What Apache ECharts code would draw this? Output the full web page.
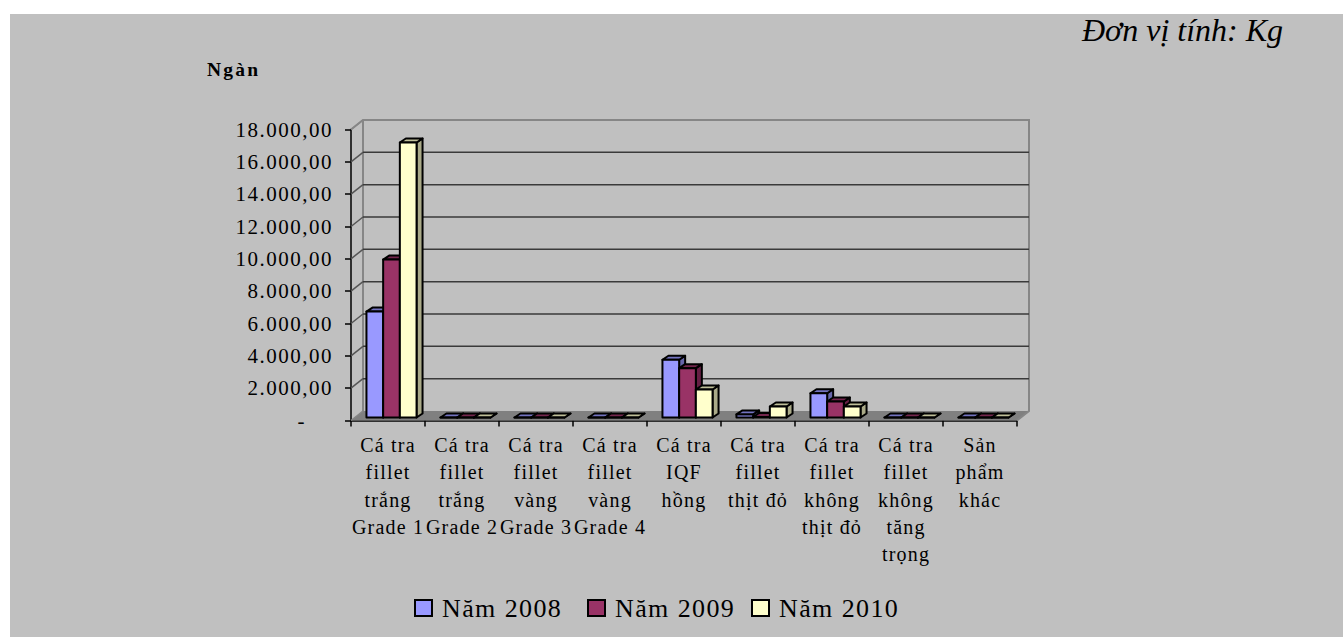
<!DOCTYPE html>
<html>
<head>
<meta charset="utf-8">
<style>
  html, body { margin: 0; padding: 0; background: #fff; }
  #chart { width: 1343px; height: 637px; }
  /* Wider tracking for the serif labels, keyed on their font size */
  svg text[style*="20px"] { letter-spacing: 1.2px; }
  svg text[style*="21px"] { letter-spacing: 1.5px; }
  svg text[style*="19.5px"] { letter-spacing: 2.2px; }
  svg text[style*="26px"] { letter-spacing: 1.4px; }
</style>
<script src="https://cdn.jsdelivr.net/npm/echarts@6/dist/echarts.min.js"></script>
</head>
<body>
<div id="chart"></div>
<script>
const categories = [
  'Cá tra\nfillet\ntrắng\nGrade 1',
  'Cá tra\nfillet\ntrắng\nGrade 2',
  'Cá tra\nfillet\nvàng\nGrade 3',
  'Cá tra\nfillet\nvàng\nGrade 4',
  'Cá tra\nIQF\nhồng',
  'Cá tra\nfillet\nthịt đỏ',
  'Cá tra\nfillet\nkhông\nthịt đỏ',
  'Cá tra\nfillet\nkhông\ntăng\ntrọng',
  'Sản\nphẩm\nkhác'
];
const nam2008 = [6550, 0, 0, 0, 3570, 190, 1500, 0, 0];
const nam2009 = [9770, 0, 0, 0, 3050, 30, 990, 0, 0];
const nam2010 = [17010, 0, 0, 0, 1730, 680, 680, 0, 0];
const gridValues = [0, 2000, 4000, 6000, 8000, 10000, 12000, 14000, 16000, 18000];

const SERIF = '"Liberation Serif", "Times New Roman", serif';
// Oblique offset of the back wall and of each column's depth
const WALL_DX = 12, WALL_DY = -9.5;
const BAR_DX = 6, BAR_DY = -4;
const BAR_SHIFT_X = 3.5, BAR_SHIFT_Y = -3, BAR_WIDTH = 16.7;

function wallItem(params, api) {
  const cs = params.coordSys;
  const left = cs.x, right = cs.x + cs.width, top = cs.y, bottom = cs.y + cs.height;
  const children = [];
  if (params.dataIndex === 0) {
    children.push({
      type: 'polygon',
      shape: { points: [[left, bottom], [left + WALL_DX, bottom + WALL_DY], [right + WALL_DX, bottom + WALL_DY], [right, bottom]] },
      style: { fill: '#808080', stroke: 'none' }
    });
    children.push({
      type: 'polyline',
      shape: { points: [[left, top], [left + WALL_DX, top + WALL_DY], [right + WALL_DX, top + WALL_DY], [right + WALL_DX, bottom + WALL_DY], [right, bottom]] },
      style: { fill: 'none', stroke: '#868686', lineWidth: 2 }
    });
    children.push({
      type: 'line',
      shape: { x1: left + WALL_DX, y1: top + WALL_DY, x2: left + WALL_DX, y2: bottom + WALL_DY },
      style: { stroke: '#868686', lineWidth: 2 }
    });
  }
  const v = api.value(0);
  const y = api.coord([0, v])[1];
  children.push({
    type: 'line',
    shape: { x1: left, y1: y, x2: left + WALL_DX, y2: y + WALL_DY },
    style: { stroke: v === 18000 || v === 0 ? '#868686' : '#555555', lineWidth: 1.5 }
  });
  if (v !== 0 && v !== 18000) {
    children.push({
      type: 'line',
      shape: { x1: left + WALL_DX, y1: y + WALL_DY, x2: right + WALL_DX, y2: y + WALL_DY },
      style: { stroke: '#3a3a3a', lineWidth: 1.5 }
    });
  }
  return { type: 'group', children };
}

function barRenderer(slot, front, topFace, sideFace) {
  return function (params, api) {
    const idx = api.value(0);
    const base = api.coord([idx, 0]);
    const head = api.coord([idx, api.value(1)]);
    const x0 = base[0] + BAR_SHIFT_X + (slot - 1.5) * BAR_WIDTH;
    const x1 = x0 + BAR_WIDTH;
    const yb = base[1] + BAR_SHIFT_Y;
    const yt = head[1] + BAR_SHIFT_Y;
    const edge = { stroke: '#000', lineWidth: 2, lineJoin: 'round' };
    return {
      type: 'group',
      children: [
        { type: 'polygon',
          shape: { points: [[x1, yb], [x1 + BAR_DX, yb + BAR_DY], [x1 + BAR_DX, yt + BAR_DY], [x1, yt]] },
          style: Object.assign({ fill: sideFace }, edge) },
        { type: 'polygon',
          shape: { points: [[x0, yt], [x0 + BAR_DX, yt + BAR_DY], [x1 + BAR_DX, yt + BAR_DY], [x1, yt]] },
          style: Object.assign({ fill: topFace }, edge) },
        { type: 'rect',
          shape: { x: x0, y: yt, width: BAR_WIDTH, height: yb - yt },
          style: Object.assign({ fill: front }, edge) }
      ]
    };
  };
}

function barSeries(name, values, slot, front, topFace, sideFace) {
  return {
    name,
    type: 'custom',
    coordinateSystem: 'cartesian2d',
    clip: false,
    z: 5,
    itemStyle: { color: front, borderColor: '#000', borderWidth: 2 },
    encode: { x: 0, y: 1 },
    data: values.map((v, i) => [i, v]),
    renderItem: barRenderer(slot, front, topFace, sideFace)
  };
}

function legendFor(name, left) {
  return {
    data: [name],
    left,
    top: 595,
    icon: 'rect',
    itemWidth: 17,
    itemHeight: 16,
    itemGap: 0,
    padding: 0,
    itemStyle: { borderColor: '#000', borderWidth: 2 },
    textStyle: { fontFamily: SERIF, fontSize: 26, color: '#000', padding: [0, 0, 0, 5] }
  };
}

function tickLabel(v) {
  if (v === 0) return '-\u00a0\u00a0\u00a0\u00a0';
  return v.toLocaleString('de-DE', { minimumFractionDigits: 2, maximumFractionDigits: 2 });
}

const chart = echarts.init(document.getElementById('chart'), null, { renderer: 'svg' });
chart.setOption({
  animation: false,
  backgroundColor: '#fff',
  graphic: [{
    type: 'rect',
    z: -10,
    shape: { x: 10, y: 14, width: 1333, height: 623 },
    style: { fill: '#c0c0c0' }
  }],
  title: [
    { text: 'Ngàn', left: 207, top: 59, padding: 0,
      textStyle: { fontFamily: SERIF, fontSize: 19.5, fontWeight: 'bold', color: '#000' } },
    { text: 'Đơn vị tính: Kg', left: 1082, top: 14, padding: 0,
      textStyle: { fontFamily: SERIF, fontSize: 32, fontStyle: 'italic', fontWeight: 'normal', color: '#000' } }
  ],
  legend: [legendFor('Năm 2008', 414), legendFor('Năm 2009', 587), legendFor('Năm 2010', 751)],
  grid: { left: 351, top: 129.5, width: 666, height: 291 },
  xAxis: {
    type: 'category',
    data: categories,
    boundaryGap: true,
    axisLine: { show: true, lineStyle: { color: '#000', width: 1.5 } },
    axisTick: { show: true, alignWithLabel: false, length: 6, lineStyle: { color: '#000', width: 1.5 } },
    axisLabel: { interval: 0, margin: 11, hideOverlap: false, fontFamily: SERIF, fontSize: 20, lineHeight: 27.3, color: '#000' }
  },
  yAxis: {
    type: 'value',
    min: 0,
    max: 18000,
    interval: 2000,
    axisLine: { show: true, lineStyle: { color: '#000', width: 1.5 } },
    axisTick: { show: true, length: 6, lineStyle: { color: '#000', width: 1.5 } },
    splitLine: { show: false },
    axisLabel: { margin: 18, fontFamily: SERIF, fontSize: 21, color: '#000', formatter: tickLabel }
  },
  series: [
    { name: 'wall', type: 'custom', coordinateSystem: 'cartesian2d', clip: false, z: 1, silent: true,
      encode: { y: 0 }, data: gridValues.map(v => [v]), renderItem: wallItem },
    barSeries('Năm 2008', nam2008, 0, '#9999ff', '#7373bf', '#6666aa'),
    barSeries('Năm 2009', nam2009, 1, '#993366', '#73264d', '#661f44'),
    barSeries('Năm 2010', nam2010, 2, '#ffffcc', '#bfbf99', '#aaaa88')
  ]
});
</script>
</body>
</html>
